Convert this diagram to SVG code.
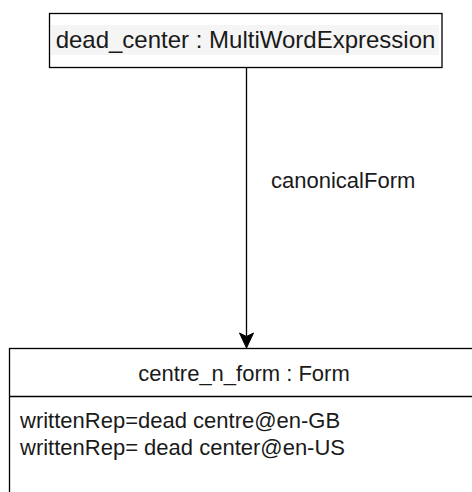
<svg xmlns="http://www.w3.org/2000/svg" width="472" height="492" viewBox="0 0 472 492">
<style>
.box{fill:#fff;stroke:#000;stroke-width:1.3}
.t{font-family:"Liberation Sans",Arial,Helvetica,sans-serif;fill:#1a1a1a}
.edge{stroke:#000;stroke-width:1.3;fill:none}
</style>
<defs>
<marker id="arr" markerUnits="userSpaceOnUse" markerWidth="16" markerHeight="18" refX="7" refY="15" orient="auto" viewBox="0 0 14 16" overflow="visible">
<path d="M0,0 L7,3.5 L14,0 L7,15 Z" fill="#000" stroke="#000" stroke-width="1" transform="rotate(0)"/>
</marker>
</defs>
<rect width="472" height="492" fill="#fff"/>
<g id="connectors">
<line class="edge" x1="246.5" y1="68" x2="246.5" y2="336"/>
<path d="M239.5,333 L246.5,336.5 L253.5,333 L246.5,348 Z" fill="#000" stroke="#000" stroke-width="1"/>
<text class="t" x="271" y="188" font-size="22">canonicalForm</text>
</g>
<g id="dead_center">
<rect class="box" x="49.5" y="13.5" width="392.5" height="54"/>
<rect x="51" y="25" width="388" height="30" fill="#f5f5f5"/>
<text class="t" x="245.5" y="47.5" font-size="24" text-anchor="middle">dead_center : MultiWordExpression</text>
</g>
<g id="centre_n_form">
<rect class="box" x="9.5" y="348.5" width="480" height="160"/>
<line x1="9.5" y1="396.5" x2="472" y2="396.5" stroke="#000" stroke-width="1.3"/>
<text class="t" x="244" y="381" font-size="22" text-anchor="middle">centre_n_form : Form</text>
<text class="t" x="20" y="428" font-size="22">writtenRep=dead centre@en-GB</text>
<text class="t" x="20" y="455" font-size="22">writtenRep= dead center@en-US</text>
</g>
</svg>
